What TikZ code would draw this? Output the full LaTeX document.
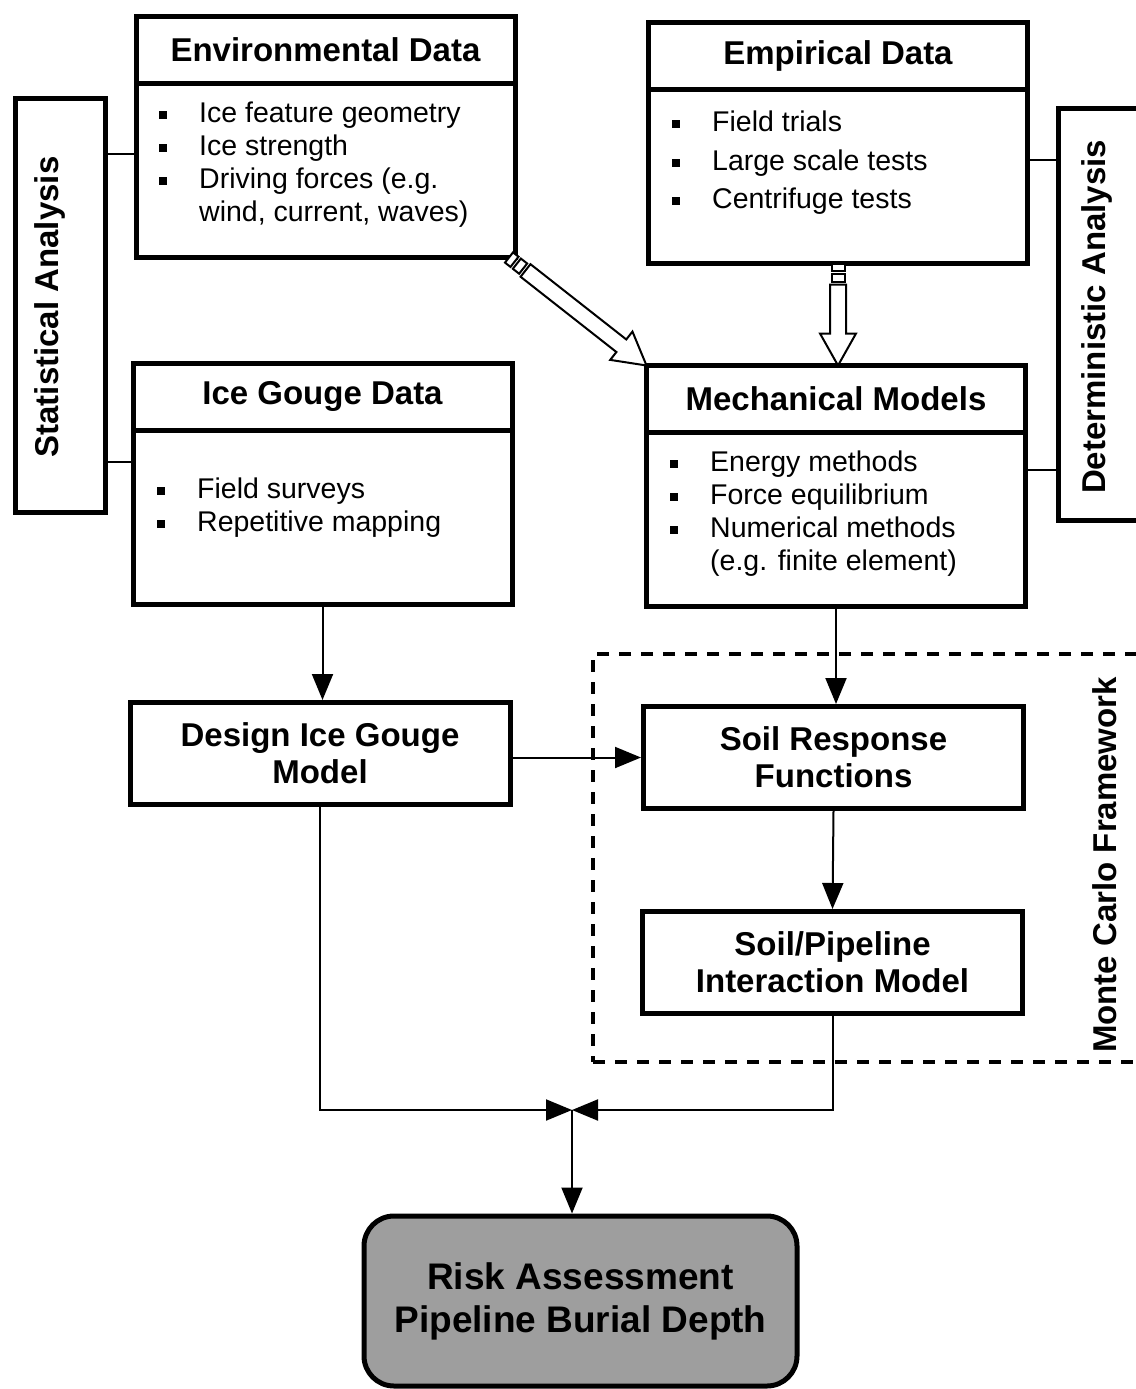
\documentclass[tikz,border=0pt]{standalone}
\usepackage{fontspec}
\setmainfont{Liberation Sans}
\usetikzlibrary{arrows.meta,calc,positioning}

\tikzset{
  boxhead/.style={draw, line width=5pt, outer sep=0pt, minimum width=379pt, minimum height=67pt,
    font=\bfseries\fontsize{33}{37}\selectfont},
  boxbody/.style={draw, line width=5pt, outer sep=0pt, minimum width=379pt, minimum height=174pt},
  itemlist/.style={align=left, inner sep=0pt, anchor=west, font=\fontsize{28.5}{33}\selectfont},
  stage/.style={draw, line width=5pt, minimum width=380pt, minimum height=102pt,
    align=center, font=\bfseries\fontsize{33}{37}\selectfont},
  sidebox/.style={draw, line width=5pt, minimum width=90pt, minimum height=414pt},
  sidelabel/.style={rotate=90, inner sep=0pt, font=\bfseries\fontsize{33}{37}\selectfont},
  link/.style={line width=2pt},
  arr/.style={link, -{Triangle[length=26pt,width=21pt]}},
  hollow/.style={draw, line width=2pt, fill=white, line join=miter}
}

% square bullet for the lists
\newcommand{\itm}{\makebox[40pt][l]{\rule[3.5pt]{8pt}{8pt}}}

% wide open arrow with two short pieces at its tail
\newcommand{\hollowarrow}[2]{%
  \coordinate (ha-t) at (#1);
  \coordinate (ha-h) at (#2);
  \coordinate (ha-b) at ($(ha-h)!32pt!(ha-t)$);
  \coordinate (ha-s) at ($(ha-t)!21pt!(ha-h)$);
  \draw[hollow] ($(ha-s)!8pt!90:(ha-h)$) -- ($(ha-b)!8pt!90:(ha-h)$)
    -- ($(ha-b)!18pt!90:(ha-h)$) -- (ha-h) -- ($(ha-b)!18pt!-90:(ha-h)$)
    -- ($(ha-b)!8pt!-90:(ha-h)$) -- ($(ha-s)!8pt!-90:(ha-h)$) -- cycle;
  \foreach \a/\b in {0pt/7pt,10pt/18pt} {
    \coordinate (ha-p) at ($(ha-t)!\a!(ha-h)$);
    \coordinate (ha-q) at ($(ha-t)!\b!(ha-h)$);
    \draw[hollow] ($(ha-p)!6.5pt!90:(ha-h)$) -- ($(ha-q)!6.5pt!90:(ha-h)$)
      -- ($(ha-q)!6.5pt!-90:(ha-h)$) -- ($(ha-p)!6.5pt!-90:(ha-h)$) -- cycle;
  }
}

\begin{document}
\begin{tikzpicture}[x=1pt,y=-1pt]
\useasboundingbox (0,0) rectangle (1135,1389);

%% data boxes
\node[boxhead] (envhead) at (325.5,50) {Environmental Data};
\node[boxbody, anchor=north] (envbody) at (envhead.south) {};
\node[itemlist] (envlist) at (159,165) {\itm Ice feature geometry\\ \itm Ice strength\\
  \itm Driving forces (e.g.\\ \hspace*{40pt}wind, current, waves)};

\node[boxhead] (emphead) at (838,56) {Empirical Data};
\node[boxbody, anchor=north] (empbody) at (emphead.south) {};
\node[itemlist, font=\fontsize{28.5}{38.5}\selectfont] (emplist) at (672,163)
  {\itm Field trials\\ \itm Large scale tests\\ \itm Centrifuge tests};

\node[boxhead] (icehead) at (322.5,396.5) {Ice Gouge Data};
\node[boxbody, anchor=north] (icebody) at (icehead.south) {};
\node[itemlist] (icelist) at (157,507.5) {\itm Field surveys\\ \itm Repetitive mapping};

\node[boxhead] (mechhead) at (836,399) {Mechanical Models};
\node[boxbody, anchor=north] (mechbody) at (mechhead.south) {};
\node[itemlist] (mechlist) at (670,513.5) {\itm Energy methods\\ \itm Force equilibrium\\
  \itm Numerical methods\\ \hspace*{40pt}(e.g. finite element)};

%% side analyses
\node[sidebox] (stat) at (60,305.5) {};
\node[sidelabel] (statlabel) at (50,307) {Statistical Analysis};
\node[sidebox, minimum width=95pt, minimum height=412pt] (det) at (1105.5,314) {};
\node[sidelabel] (detlabel) at (1097,317) {Deterministic Analysis};

\draw[link] ([yshift=-70pt]envbody.north west) coordinate (e1) -- (e1 -| stat.east);
\draw[link] ([yshift=-32pt]icebody.north west) coordinate (e2) -- (e2 -| stat.east);
\draw[link] ([yshift=-70.5pt]empbody.north east) coordinate (e3) -- (e3 -| det.west);
\draw[link] ([yshift=-37.5pt]mechbody.north east) coordinate (e4) -- (e4 -| det.west);

%% monte carlo part
\node[draw, line width=3.5pt, dash pattern=on 12pt off 10pt, minimum width=552pt,
  minimum height=408pt] (mc) at (869,858) {};
\node[sidelabel] (mclabel) at (1105,865) {Monte Carlo Framework};

\node[stage] (design) at (320,753.5) {Design Ice Gouge\\Model};
\node[stage] (soilresp) at (833.5,757.5) {Soil Response\\Functions};
\node[stage] (soilpipe) at (832.5,962.5) {Soil/Pipeline\\Interaction Model};

\node[draw, line width=5pt, rounded corners=30pt, fill=black!38, minimum width=433pt,
  minimum height=170pt, align=center, font=\bfseries\fontsize{37}{43}\selectfont]
  (risk) at (580.5,1301) {Risk Assessment\\Pipeline Burial Depth};

%% open arrows into the models
\hollowarrow{[xshift=-6pt]envbody.south east}{mechhead.north west}
\hollowarrow{empbody.south}{empbody.south |- mechhead.north}

%% flow
\draw[arr] (icebody.south) -- (icebody.south |- design.north);
\draw[arr] (mechbody.south) -- (mechbody.south |- soilresp.north);
\draw[arr] (design.east |- soilresp.west) -- (soilresp.west);
\draw[arr] (soilresp.south) -- (soilpipe.north);

\coordinate (merge) at (572,1110);
\draw[arr] (design.south) |- (merge);
\draw[arr] (soilpipe.south) |- (merge);
\draw[arr] (merge) -- (merge |- risk.north);

\end{tikzpicture}
\end{document}
